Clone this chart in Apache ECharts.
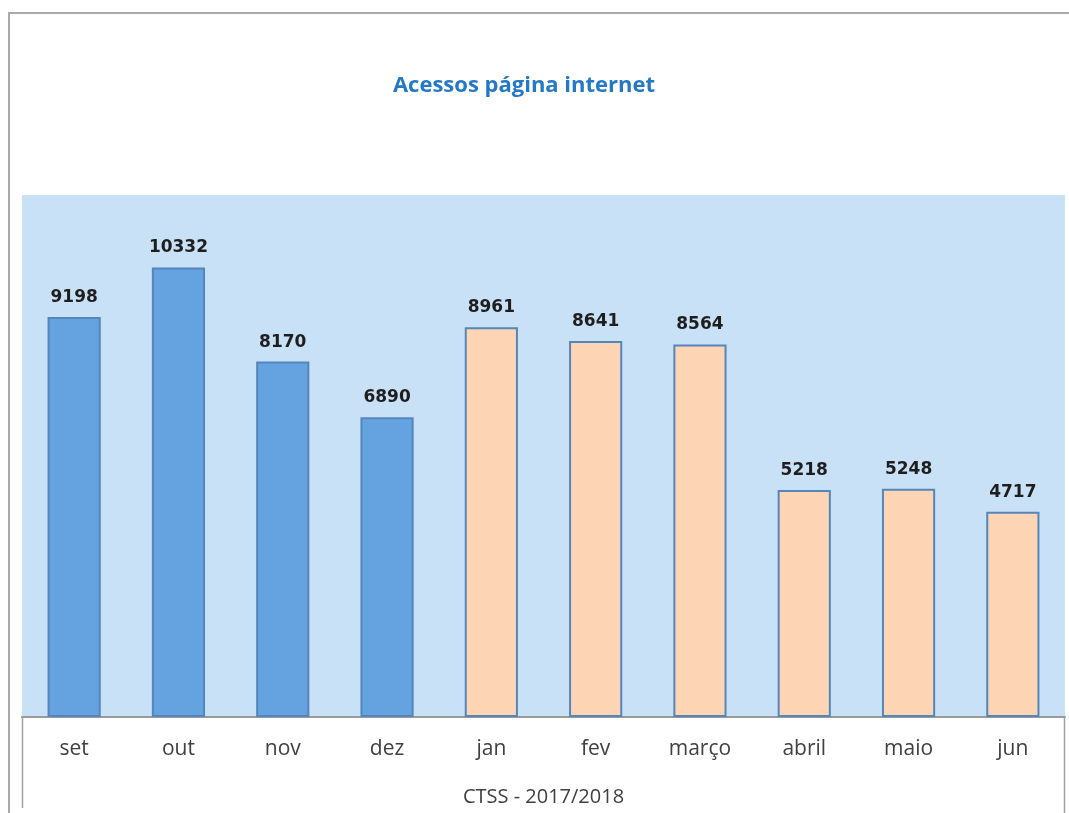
<!DOCTYPE html>
<html><head><meta charset="utf-8">
<script src="https://cdn.jsdelivr.net/npm/echarts@6/dist/echarts.min.js"></script>
<style>html,body{margin:0;padding:0;background:#fff}#c{width:1069px;height:813px}</style>
</head><body><div id="c"></div>
<script>
const categories = ['set','out','nov','dez','jan','fev','março','abril','maio','jun'];
const values = [9198, 10332, 8170, 6890, 8961, 8641, 8564, 5218, 5248, 4717];
const years = [2017, 2017, 2017, 2017, 2018, 2018, 2018, 2018, 2018, 2018];
const titleText = 'Acessos página internet';
const axisName = 'CTSS - 2017/2018';

const chart = echarts.init(document.getElementById('c'), null, {renderer:'canvas'});
chart.setOption({
  animation: false,
  title: {
    text: titleText, left: 519, top: 70, textAlign: 'center',
    textStyle: {color:'#2379c6', fontSize:22, fontWeight:'bold', fontFamily:'Open Sans, sans-serif'}
  },
  grid: {left:22, right:4, top:195, bottom:96, show:true, backgroundColor:'#c8e1f7', borderWidth:0},
  xAxis: {
    type:'category', data: categories,
    axisLine:{show:true, lineStyle:{color:'#9a9a9a', width:2}},
    axisTick:{show:false},
    axisLabel:{color:'#404040', fontSize:21, margin:22, fontFamily:'Open Sans, sans-serif'},
    name: axisName, nameLocation:'middle', nameGap:70,
    nameTextStyle:{color:'#404040', fontSize:20, fontFamily:'Open Sans, sans-serif'}
  },
  yAxis: {type:'value', min:0, max:12000, show:false, splitLine:{show:false}},
  series: [{
    type:'bar', data: values, barWidth:'51%',
    itemStyle:{
      color: p => years[p.dataIndex] === 2017 ? '#64a3e0' : '#fdd4b4',
      borderColor: '#5486bc', borderWidth: 2
    },
    label:{show:true, position:'top', distance:11, color:'#1e1e1e', fontWeight:'bold', fontSize:17, fontFamily:'DejaVu Sans, sans-serif'}
  }],
  graphic: [
    {type:'line', shape:{x1:8, y1:13, x2:1069, y2:13}, style:{stroke:'#a9a9a9', lineWidth:2}},
    {type:'line', shape:{x1:9, y1:12, x2:9, y2:813}, style:{stroke:'#a9a9a9', lineWidth:2}},
    {type:'line', shape:{x1:22.5, y1:717, x2:22.5, y2:808}, style:{stroke:'#a0a0a0', lineWidth:1.5}},
    {type:'line', shape:{x1:1064.5, y1:717, x2:1064.5, y2:813}, style:{stroke:'#a0a0a0', lineWidth:1.5}}
  ]
});
</script></body></html>
